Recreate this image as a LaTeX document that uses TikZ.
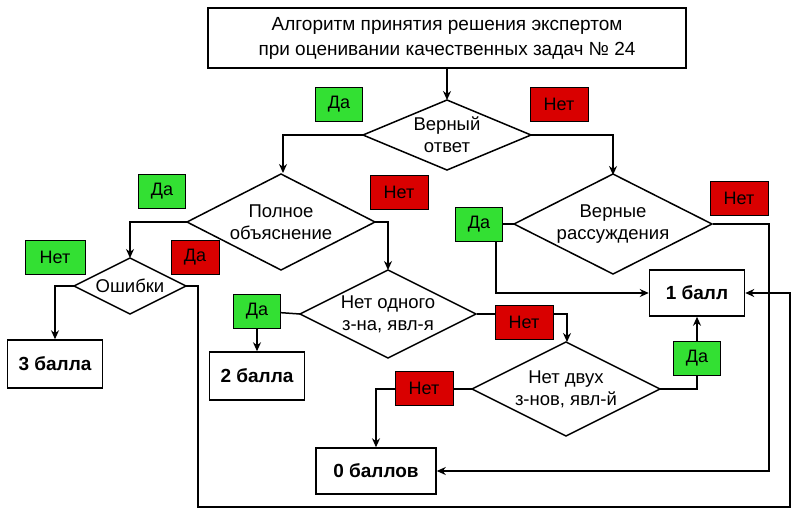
\documentclass[tikz,border=0pt]{standalone}
\usepackage{fontspec}
\setmainfont{Liberation Sans}
\usetikzlibrary{arrows.meta}
\newcommand{\mydmd}[6]{%
  \coordinate (#1w) at (#2-#4,#3);
  \coordinate (#1e) at (#2+#4,#3);
  \coordinate (#1n) at (#2,#3-#5);
  \coordinate (#1s) at (#2,#3+#5);
  \draw[ln,fill=white] (#1w) -- (#1n) -- (#1e) -- (#1s) -- cycle;
  \node[dtext] (#1) at (#2,#3) {#6};}
\begin{document}
\begin{tikzpicture}[x=1pt,y=-1pt,
  ln/.style={line width=1.5pt},
  arr/.style={ln,-{Stealth[length=9pt,width=8pt]}},
  dtext/.style={inner sep=0pt,font=\fontsize{18.5}{22}\selectfont,align=center},
  res/.style={draw,rectangle,line width=1.5pt,fill=white,font=\fontsize{19}{22}\selectfont\bfseries},
  yes/.style={draw,rectangle,line width=1pt,fill=green!85!black!80,font=\fontsize{18}{20}\selectfont,minimum width=47pt,minimum height=34pt,inner sep=0pt},
  no/.style={draw,rectangle,line width=1pt,fill=red!85!black,font=\fontsize{18}{20}\selectfont,minimum width=58pt,minimum height=34pt,inner sep=0pt}]
\useasboundingbox (0,0) rectangle (800,515);
\node[draw,line width=1.5pt,minimum width=478pt,minimum height=60pt,align=center,font=\fontsize{19}{25}\selectfont] (title) at (447,38) {Алгоритм принятия решения экспертом\\при оценивании качественных задач № 24};
\node[res,minimum width=95pt,minimum height=46pt] (b1) at (697,293) {1 балл};
\node[res,minimum width=95pt,minimum height=48pt] (b3) at (55,364) {3 балла};
\node[res,minimum width=95pt,minimum height=48pt] (b2) at (257,376) {2 балла};
\node[res,minimum width=120pt,minimum height=46pt] (b0) at (376,471) {0 баллов};
\coordinate (ysD3) at (479,224);
\coordinate (ysD5) at (257,311);
\coordinate (ysD6) at (697,358);
\coordinate (noD5) at (524,322);
\coordinate (noD6) at (424,388);
% connectors
\draw[arr] (title.south) -- (447,100);
\draw[arr] (363,135) -| (283,173);
\draw[arr] (531,135) -| (613,175);
\draw[arr] (187,222) -| (130,258);
\draw[arr] (375,222) -| (388,270);
\draw[arr] (74,286) -| (b3.north);
\draw[arr] (185,286) -- (198,286) -- (198,507) -- (790,507) |- (b1.east);
\draw[ln] (514,224) -- (ysD3);
\draw[arr] (496,241) |- (b1.west);
\draw[arr] (713,224) -- (769,224) |- (b0.east);
\draw[ln] (300,314) -- (ysD5);
\draw[arr] (ysD5) -- (b2.north);
\draw[arr] (477,314) -- (567,314) -- (567,342);
\draw[arr] (472,389) -| (b0.north);
\draw[arr] (660,389) -| (b1.south);
% diamonds
\mydmd{d1}{447}{135}{84}{35}{Верный\\ответ}
\mydmd{d2}{281}{222}{94}{48}{Полное\\объяснение}
\mydmd{d3}{613}{224}{99}{50}{Верные\\рассуждения}
\mydmd{d4}{130}{286}{56}{28}{Ошибки}
\mydmd{d5}{388}{314}{88}{44}{Нет одного\\з-на, явл-я}
\mydmd{d6}{566}{389}{94}{47}{Нет двух\\з-нов, явл-й}
% labels
\node[yes] at (339,104) {Да};
\node[no] at (559,104) {Нет};
\node[yes] at (162,191) {Да};
\node[no] at (399,192) {Нет};
\node[yes] (ys3) at (ysD3) {Да};
\node[no] at (739,198) {Нет};
\node[yes,minimum width=60pt] at (55,257) {Нет};
\node[no,minimum width=48pt] at (195,257) {Да};
\node[yes] at (ysD5) {Да};
\node[no] at (noD5) {Нет};
\node[no] at (noD6) {Нет};
\node[yes] at (ysD6) {Да};
\end{tikzpicture}
\end{document}
